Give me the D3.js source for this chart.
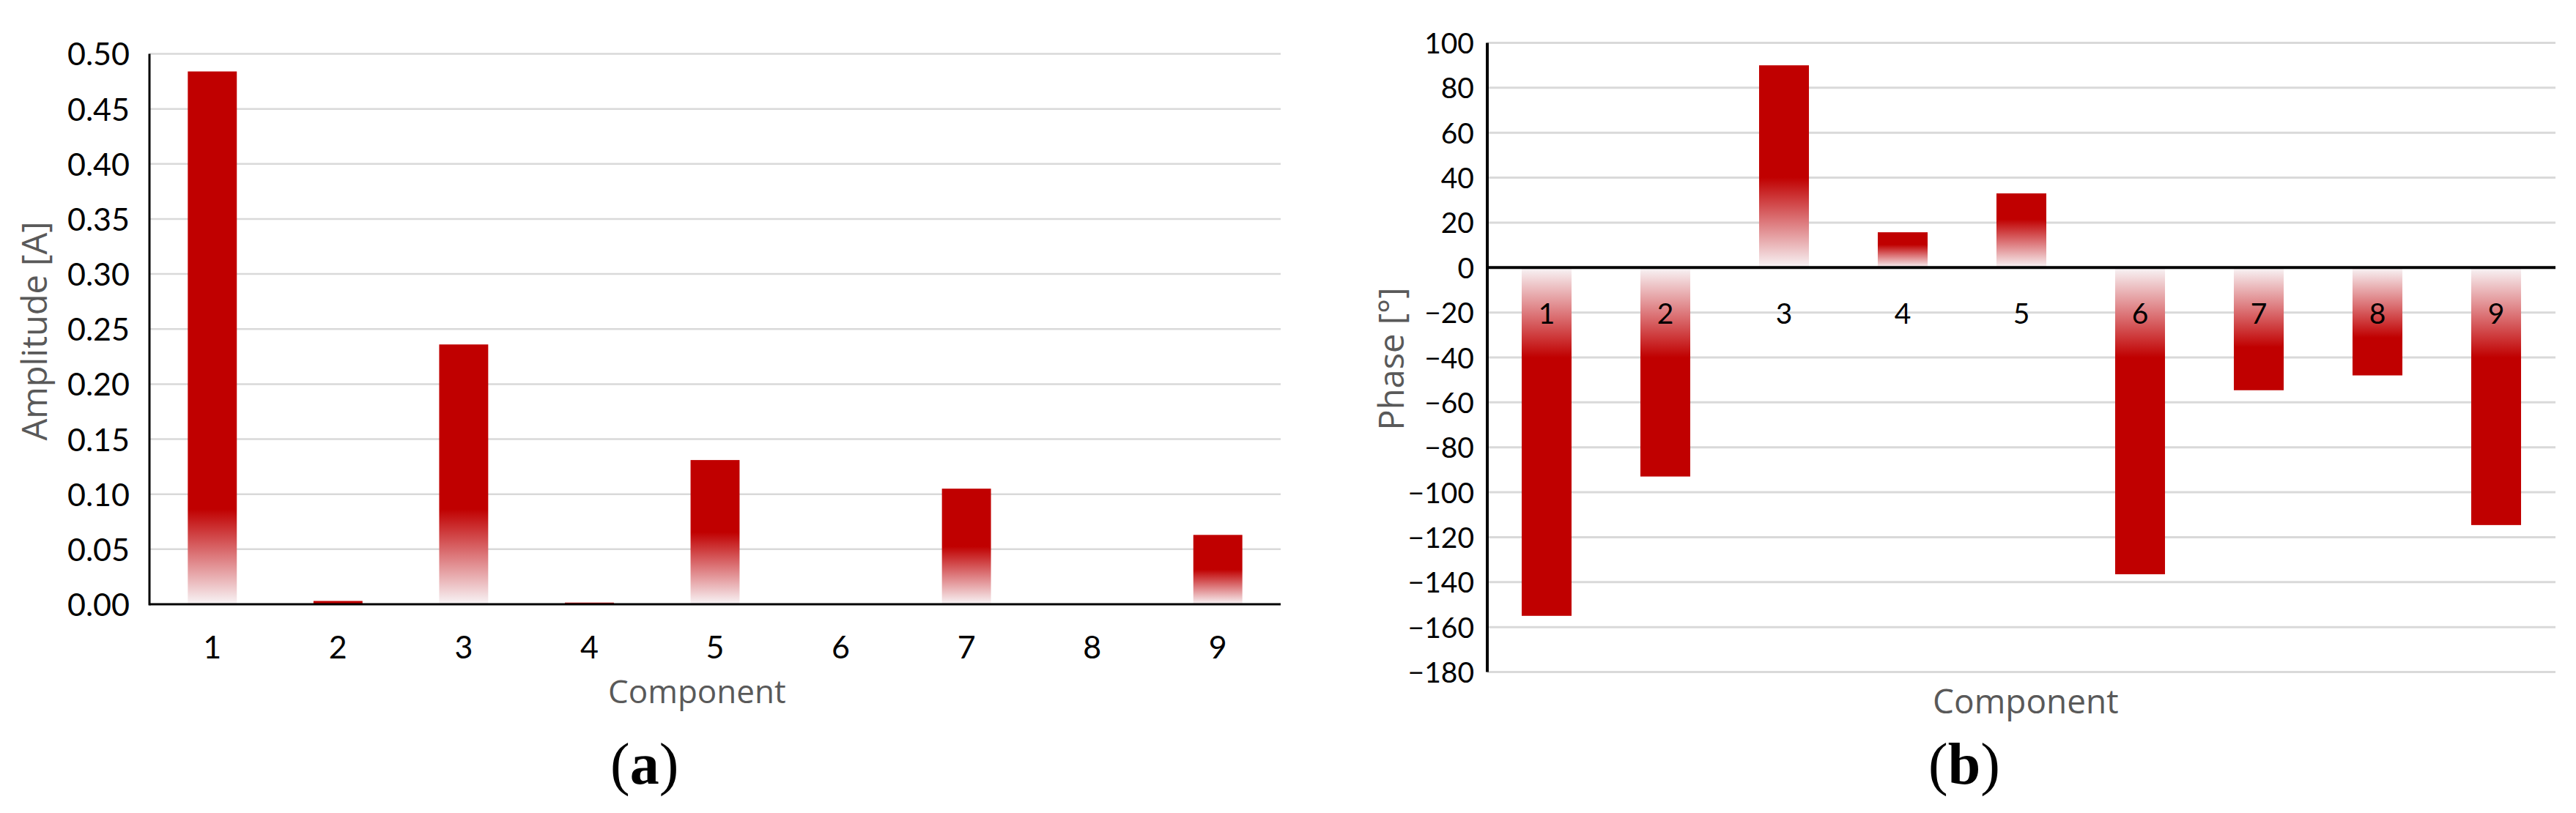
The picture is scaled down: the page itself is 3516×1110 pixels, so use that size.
<!DOCTYPE html>
<html>
<head>
<meta charset="utf-8">
<script src="https://cdn.jsdelivr.net/npm/d3@7"></script>
<style>
html, body { margin: 0; padding: 0; background: #ffffff; }
svg { display: block; }
</style>
</head>
<body>
<script>
// ---------- data ----------
const categories = ["1", "2", "3", "4", "5", "6", "7", "8", "9"];
const amplitudeValues = [0.484, 0.003, 0.236, 0.0015, 0.131, 0, 0.105, 0, 0.063];
const phaseValues = [-155, -93, 90, 15.7, 33, -136.5, -54.6, -48, -114.6];
const amplitudeTicks = [0, 0.05, 0.10, 0.15, 0.20, 0.25, 0.30, 0.35, 0.40, 0.45, 0.50];
const phaseTicks = [100, 80, 60, 40, 20, 0, -20, -40, -60, -80, -100, -120, -140, -160, -180];
const xTitles = ["Component", "Component"];
const yTitles = ["Amplitude [A]", "Phase [°]"];
const panelLetters = ["a", "b"];

// ---------- page ----------
const W = 3516, H = 1110;
const svg = d3.select("body").append("svg").attr("width", W).attr("height", H)
  .style("background", "#ffffff");
const defs = svg.append("defs");

const BAR = "#C00000";
const FADE = "#F8F5F7";
const GRID = "#D9D9D9";
const TITLE = "#595959";
const tickFont = "Lato, 'Open Sans', sans-serif";
const titleFont = "'Open Sans', 'Noto Sans', sans-serif";

function drawPanel(cfg) {
  const g = svg.append("g");
  const x = d3.scaleBand().domain(categories).range([cfg.x0, cfg.x1])
    .paddingInner(cfg.pad).paddingOuter(cfg.pad / 2);
  const y = d3.scaleLinear().domain(cfg.domain).range([cfg.yBottom, cfg.yTop]);
  const y0 = y(0);

  // gridlines
  g.append("g").selectAll("line").data(cfg.ticks.filter(t => t !== 0)).join("line")
    .attr("x1", cfg.x0).attr("x2", cfg.x1)
    .attr("y1", d => y(d)).attr("y2", d => y(d))
    .attr("stroke", GRID).attr("stroke-width", cfg.gridW);

  // bars with fade toward zero
  const data = categories.map((c, i) => ({ c, v: cfg.values[i], i }));
  data.forEach(d => {
    const h = Math.abs(y(d.v) - y0);
    const fade = h < 10 ? 0.01 : Math.min(cfg.maxFade, cfg.fadeFrac * h);
    const dir = d.v >= 0 ? -1 : 1;
    const gr = defs.append("linearGradient")
      .attr("id", cfg.id + "g" + d.i)
      .attr("gradientUnits", "userSpaceOnUse")
      .attr("x1", 0).attr("x2", 0)
      .attr("y1", y0).attr("y2", y0 + dir * fade);
    gr.append("stop").attr("offset", 0).attr("stop-color", FADE);
    gr.append("stop").attr("offset", 0.5).attr("stop-color", "#DD7A7D");
    gr.append("stop").attr("offset", 1).attr("stop-color", BAR);
  });
  g.append("g").selectAll("rect").data(data).join("rect")
    .attr("x", d => x(d.c))
    .attr("width", x.bandwidth())
    .attr("y", d => Math.min(y(d.v), y0))
    .attr("height", d => Math.abs(y(d.v) - y0))
    .attr("fill", d => `url(#${cfg.id}g${d.i})`);

  // y axis (labels via d3 axis)
  const yAxis = d3.axisLeft(y).tickValues(cfg.ticks).tickSize(0)
    .tickPadding(cfg.x0 - cfg.labelRight).tickFormat(cfg.fmt);
  const ya = g.append("g").attr("transform", `translate(${cfg.x0},0)`).call(yAxis);
  ya.select(".domain").remove();
  ya.selectAll("text").attr("font-family", tickFont).attr("font-size", cfg.tickSize)
    .attr("fill", "#000").attr("dy", "0.36em");

  // axis lines
  g.append("line").attr("x1", cfg.x0).attr("x2", cfg.x0)
    .attr("y1", cfg.yTop).attr("y2", cfg.yBottom + (cfg.id === "a" ? 1.5 : 0))
    .attr("stroke", "#000").attr("stroke-width", cfg.axisW);
  g.append("line").attr("x1", cfg.x0).attr("x2", cfg.x1)
    .attr("y1", y0).attr("y2", y0)
    .attr("stroke", "#000").attr("stroke-width", cfg.axisW);

  // category labels
  g.append("g").selectAll("text").data(categories).join("text")
    .attr("x", d => x(d) + x.bandwidth() / 2)
    .attr("y", y0 + cfg.catOffset)
    .attr("text-anchor", "middle")
    .attr("font-family", tickFont).attr("font-size", cfg.catSize)
    .attr("fill", "#000")
    .text(d => d);

  // axis titles
  g.append("text")
    .attr("transform", `translate(${cfg.yTitleX},${cfg.yTitleY}) rotate(-90)`)
    .attr("text-anchor", "middle")
    .attr("font-family", titleFont).attr("font-size", 47).attr("fill", TITLE)
    .text(cfg.yTitle);
  g.append("text")
    .attr("x", cfg.xTitleX).attr("y", cfg.xTitleY)
    .attr("font-family", titleFont).attr("font-size", cfg.xTitleSize).attr("fill", TITLE)
    .text(cfg.xTitle);

  // panel label
  const pl = g.append("text")
    .attr("x", cfg.panelX).attr("y", 1070)
    .attr("font-family", "'Liberation Serif', 'DejaVu Serif', serif")
    .attr("font-size", 80).attr("fill", "#000");
  pl.append("tspan").text("(");
  pl.append("tspan").attr("font-weight", "bold").text(cfg.letter);
  pl.append("tspan").text(")");
}

drawPanel({
  id: "a", values: amplitudeValues, ticks: amplitudeTicks, domain: [0, 0.5],
  x0: 204, x1: 1748, yTop: 73.5, yBottom: 825, pad: 0.61,
  fmt: d3.format(".2f"), labelRight: 177, tickSize: 43, catSize: 43, catOffset: 74,
  gridW: 2.5, axisW: 3, maxFade: 130, fadeFrac: 0.5,
  yTitle: yTitles[0], yTitleX: 64, yTitleY: 452,
  xTitle: xTitles[0], xTitleX: 830, xTitleY: 960, xTitleSize: 44,
  panelX: 833, letter: panelLetters[0]
});

drawPanel({
  id: "b", values: phaseValues, ticks: phaseTicks, domain: [-180, 100],
  x0: 2030, x1: 3488, yTop: 58.5, yBottom: 917.5, pad: 0.58,
  fmt: d3.format("d"), labelRight: 2012, tickSize: 39, catSize: 39, catOffset: 77,
  gridW: 3, axisW: 4, maxFade: 123, fadeFrac: 0.65,
  yTitle: yTitles[1], yTitleX: 1916, yTitleY: 490,
  xTitle: xTitles[1], xTitleX: 2638, xTitleY: 974, xTitleSize: 46,
  panelX: 2632, letter: panelLetters[1]
});
</script>
</body>
</html>
